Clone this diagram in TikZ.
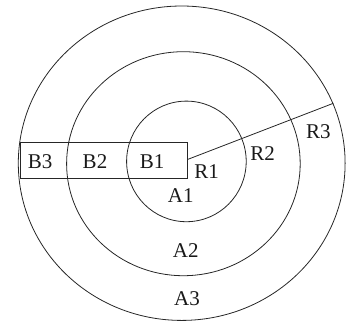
\documentclass[tikz,border=0pt]{standalone}
\usepackage{fontspec}
\setmainfont{Liberation Serif}
\begin{document}
\begin{tikzpicture}[x=1pt,y=-1pt,
  ring/.style={draw=black!85,line width=0.8pt},
  lbl/.style={inner sep=0pt,font=\fontsize{21}{24}\selectfont,text=black!90}]
\useasboundingbox (0,0) rectangle (347,325);
% concentric circles
\draw[ring] (181.7,163.2) ellipse [x radius=163.4, y radius=157.2];
\draw[ring] (183.4,163.7) ellipse [x radius=116.8, y radius=112.0];
\draw[ring] (186.4,161.4) ellipse [x radius=59.8, y radius=60.3];
% rectangle
\node[ring,minimum width=167.7pt,minimum height=36pt,inner sep=0pt] (bar) at (103.8,160.3) {};
% radius line
\coordinate (c) at (187.7,159.4);
\coordinate (p) at (333.3,103.3);
\draw[ring] (c) -- (p);
% labels
\node[lbl] (b3) at (40.2,161.8) {B3};
\node[lbl] (b2) at (95.0,161.8) {B2};
\node[lbl] (b1) at (152.2,161.8) {B1};
\node[lbl] (r1) at (206.5,171.7) {R1};
\node[lbl] (r2) at (262.5,153.3) {R2};
\node[lbl] (r3) at (318.3,131.7) {R3};
\node[lbl] (a1) at (180.8,195.8) {A1};
\node[lbl] (a2) at (185.8,250.8) {A2};
\node[lbl] (a3) at (187.0,298.8) {A3};
\end{tikzpicture}
\end{document}
